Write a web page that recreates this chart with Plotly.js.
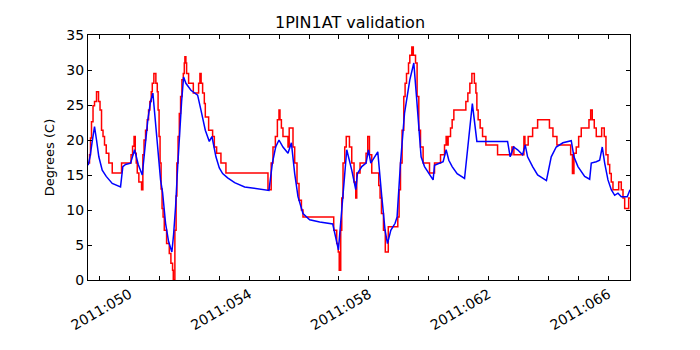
<!DOCTYPE html>
<html>
<head>
<meta charset="utf-8">
<script src="https://cdn.plot.ly/plotly-3.0.1.min.js"></script>
<style>
  html, body { margin: 0; padding: 0; background: #ffffff; }
  #plot { width: 700px; height: 350px; }
</style>
</head>
<body>
<div id="plot"></div>
<script>
// day of year 2011 (fractional) vs temperature
const redDay = [48.62, 48.666, 48.699, 48.732, 48.783, 48.833, 48.9, 48.967, 49.017, 49.067, 49.117, 49.167, 49.224, 49.311, 49.425,
    49.736, 50.054, 50.104, 50.154, 50.194, 50.227, 50.261, 50.314, 50.405, 50.448, 50.488, 50.538, 50.595, 50.639, 50.682,
    50.729, 50.763, 50.816, 50.883, 50.93, 50.957, 50.99, 51.023, 51.057, 51.09, 51.124, 51.164, 51.241, 51.331, 51.385,
    51.441, 51.465, 51.518, 51.559, 51.585, 51.625, 51.666, 51.709, 51.753, 51.799, 51.833, 51.853, 51.886, 51.91, 51.977,
    52.134, 52.311, 52.355, 52.395, 52.445, 52.502, 52.535, 52.646, 52.779, 52.836, 52.913, 53.057, 53.224, 54.629, 54.736,
    54.796, 54.876, 54.943, 54.997, 55.03, 55.077, 55.13, 55.298, 55.338, 55.465, 55.522, 55.599, 55.666, 55.746, 55.799,
    56.826, 56.926, 56.977, 57.01, 57.06, 57.094, 57.137, 57.194, 57.244, 57.351, 57.428, 57.505, 57.562, 57.595, 57.706,
    57.906, 57.963, 58.02, 58.097, 58.331, 58.375, 58.421, 58.488, 58.549, 58.649, 58.967, 59.01, 59.057, 59.11, 59.167,
    59.211, 59.258, 59.325, 59.368, 59.435, 59.485, 59.559, 59.612, 59.669, 59.726, 59.813, 60.027, 60.194, 60.395, 60.528,
    60.582, 60.616, 60.649, 60.729, 60.783, 60.84, 61.241, 61.308, 61.375, 61.442, 61.525, 61.576, 61.609, 61.652, 61.719,
    61.799, 61.91, 62.301, 62.78, 62.846, 63.181, 63.214, 63.324, 63.472, 63.639, 64.034, 64.151, 64.284, 64.743, 64.803,
    64.853, 64.93, 65.01, 65.097, 65.355, 65.412, 65.465, 65.532, 65.599, 65.779, 65.866, 65.923, 65.99, 66.047, 66.1,
    66.157, 66.348, 66.435, 66.492, 66.548, 66.682, 66.726];
const redTemp = [16.7, 17.9, 20.3, 22.6, 24.9, 25.5, 26.9, 25.5, 24.3, 21.4, 20.5, 19.3, 18.1, 16.7, 15.3,
    16.7, 17.9, 19.1, 20.5, 18.1, 16.7, 15.3, 14.0, 12.9, 17.9, 20.0, 21.4, 22.9, 24.3, 25.5,
    26.9, 28.1, 29.5, 28.1, 26.9, 24.3, 20.5, 16.7, 13.0, 10.2, 9.0, 7.1, 5.2, 3.8, 2.4,
    1.4, 0.0, 7.1, 12.0, 16.7, 20.5, 23.8, 26.2, 28.6, 29.5, 31.0, 31.9, 31.0, 29.5, 28.1,
    26.7, 28.1, 29.5, 28.1, 26.7, 25.2, 23.3, 21.4, 20.5, 19.0, 18.1, 16.7, 15.3, 12.9, 16.7,
    19.0, 20.5, 22.9, 24.3, 22.9, 21.7, 20.5, 19.0, 21.7, 19.0, 16.7, 13.8, 11.4, 10.0, 9.0,
    7.1, 5.2, 4.0, 1.4, 7.1, 11.7, 16.7, 19.0, 20.5, 19.0, 16.7, 14.0, 11.7, 15.3, 16.7,
    18.1, 20.5, 17.9, 15.3, 13.5, 11.7, 9.5, 7.1, 4.0, 7.6, 9.0, 12.9, 16.7, 21.4, 26.2,
    28.1, 29.5, 31.0, 32.1, 33.3, 32.1, 31.0, 26.2, 21.4, 19.0, 16.7, 15.3, 16.7, 17.9, 19.3,
    20.5, 19.3, 20.5, 21.7, 22.9, 24.3, 25.5, 26.7, 28.1, 29.5, 28.1, 26.7, 24.3, 22.9, 21.7,
    20.5, 19.3, 17.9, 19.0, 17.9, 20.5, 19.3, 20.5, 21.7, 22.9, 21.7, 20.5, 19.3, 17.9, 15.2,
    18.1, 19.0, 20.5, 21.7, 22.9, 24.3, 22.9, 21.7, 20.5, 21.7, 20.5, 17.9, 16.5, 15.2, 14.0,
    12.9, 14.0, 12.9, 11.7, 10.2, 11.7, 11.7];

const blueDay = [48.622, 48.682, 48.749, 48.833, 48.9, 48.977, 49.09, 49.224, 49.425, 49.702, 49.779, 49.87, 50.037, 50.171,
    50.294, 50.428, 50.522, 50.615, 50.706, 50.783, 50.839, 50.896, 50.967, 51.04, 51.107, 51.207, 51.308, 51.418, 51.475,
    51.542, 51.609, 51.676, 51.743, 51.809, 51.886, 52.054, 52.278, 52.388, 52.535, 52.669, 52.756, 52.803, 52.89, 53.003,
    53.114, 53.281, 53.515, 53.849, 54.629, 54.662, 54.776, 54.886, 54.997, 55.13, 55.298, 55.411, 55.522, 55.632, 55.799,
    56.023, 56.358, 56.793, 56.983, 57.127, 57.261, 57.428, 57.562, 57.619, 57.763, 57.906, 57.987, 58.064, 58.174, 58.298,
    58.432, 58.542, 58.622, 58.733, 58.876, 58.943, 59.057, 59.191, 59.368, 59.502, 59.592, 59.669, 59.746, 59.86, 60.003,
    60.147, 60.194, 60.338, 60.482, 60.582, 60.672, 60.783, 60.95, 61.197, 61.324, 61.458, 61.609, 62.635, 62.722, 62.836,
    62.97, 63.137, 63.224, 63.304, 63.472, 63.639, 63.933, 64.0, 64.094, 64.261, 64.485, 64.763, 64.853, 64.987, 65.211,
    65.378, 65.432, 65.599, 65.712, 65.799, 65.88, 65.99, 66.1, 66.214, 66.324, 66.435, 66.635, 66.726];
const blueTemp = [16.4, 17.6, 19.6, 21.9, 20.0, 17.6, 15.7, 14.8, 13.8, 13.3, 16.2, 16.5, 16.7, 18.6,
    16.5, 15.0, 19.0, 22.9, 25.5, 26.7, 24.0, 21.4, 17.9, 14.3, 12.5, 8.1, 5.5, 4.0, 6.5,
    10.5, 16.0, 21.0, 25.5, 29.0, 28.1, 27.1, 26.4, 24.3, 21.4, 19.8, 20.5, 19.5, 17.6, 16.0,
    15.2, 14.6, 13.9, 13.3, 12.9, 12.8, 16.7, 19.0, 20.0, 19.0, 18.1, 19.6, 15.2, 11.9, 9.5,
    8.6, 8.3, 8.0, 4.3, 12.0, 18.6, 15.7, 12.9, 15.2, 16.2, 16.7, 18.6, 16.7, 17.4, 18.3,
    11.9, 7.1, 5.2, 7.1, 8.1, 9.0, 16.7, 23.8, 28.6, 31.0, 26.2, 21.4, 17.6, 16.2, 15.2,
    14.3, 16.4, 16.7, 16.9, 18.6, 17.1, 16.2, 15.2, 14.5, 19.5, 25.2, 19.8, 19.8, 17.6, 19.0,
    18.6, 17.9, 19.3, 17.6, 16.2, 15.0, 14.2, 15.5, 17.6, 19.0, 19.6, 19.9, 17.6, 16.2, 14.8,
    14.4, 16.7, 16.9, 17.1, 19.0, 16.7, 14.3, 12.9, 12.1, 12.4, 11.9, 11.9, 12.9];

const tickDays = [49, 50, 51, 52, 53, 54, 55, 56, 57, 58, 59, 60, 61, 62, 63, 64, 65, 66];
const tickLabels = ["", "2011:050", "", "", "", "2011:054", "", "", "", "2011:058", "", "", "",
    "2011:062", "", "", "", "2011:066"];
const yTicks = [0, 5, 10, 15, 20, 25, 30, 35];

const traces = [
    {
        x: redDay,
        y: redTemp,
        type: "scatter",
        mode: "lines",
        line: { color: "#ff0000", width: 1.5, shape: "hv" },
        hoverinfo: "skip"
    },
    {
        x: blueDay,
        y: blueTemp,
        type: "scatter",
        mode: "lines",
        line: { color: "#0000ff", width: 1.5 },
        hoverinfo: "skip"
    }
];

const layout = {
    width: 700,
    height: 350,
    margin: { l: 88, r: 70, t: 35, b: 70 },
    paper_bgcolor: "#ffffff",
    plot_bgcolor: "#ffffff",
    showlegend: false,
    font: { family: "DejaVu Sans, sans-serif", color: "#000000", size: 14 },
    title: {
        text: "1PIN1AT validation",
        font: { size: 16 },
        x: 0.5,
        xanchor: "center",
        y: 0.935,
        yanchor: "middle"
    },
    xaxis: {
        range: [48.615, 66.726],
        tickmode: "array",
        tickvals: tickDays,
        ticktext: tickLabels,
        tickangle: -30,
        ticks: "inside",
        ticklen: 4,
        tickcolor: "#000000",
        tickfont: { size: 14 },
        showgrid: false,
        zeroline: false,
        showline: true,
        linecolor: "#000000",
        linewidth: 1,
        mirror: "ticks"
    },
    yaxis: {
        range: [0, 35],
        tickmode: "array",
        tickvals: yTicks,
        ticks: "inside",
        ticklen: 4,
        tickcolor: "#000000",
        tickfont: { size: 14 },
        showgrid: false,
        zeroline: false,
        showline: true,
        linecolor: "#000000",
        linewidth: 1,
        mirror: "ticks",
        title: { text: "Degrees (C)", font: { size: 13 }, standoff: 8 }
    }
};

Plotly.newPlot("plot", traces, layout, { displayModeBar: false, staticPlot: true });
</script>
</body>
</html>
